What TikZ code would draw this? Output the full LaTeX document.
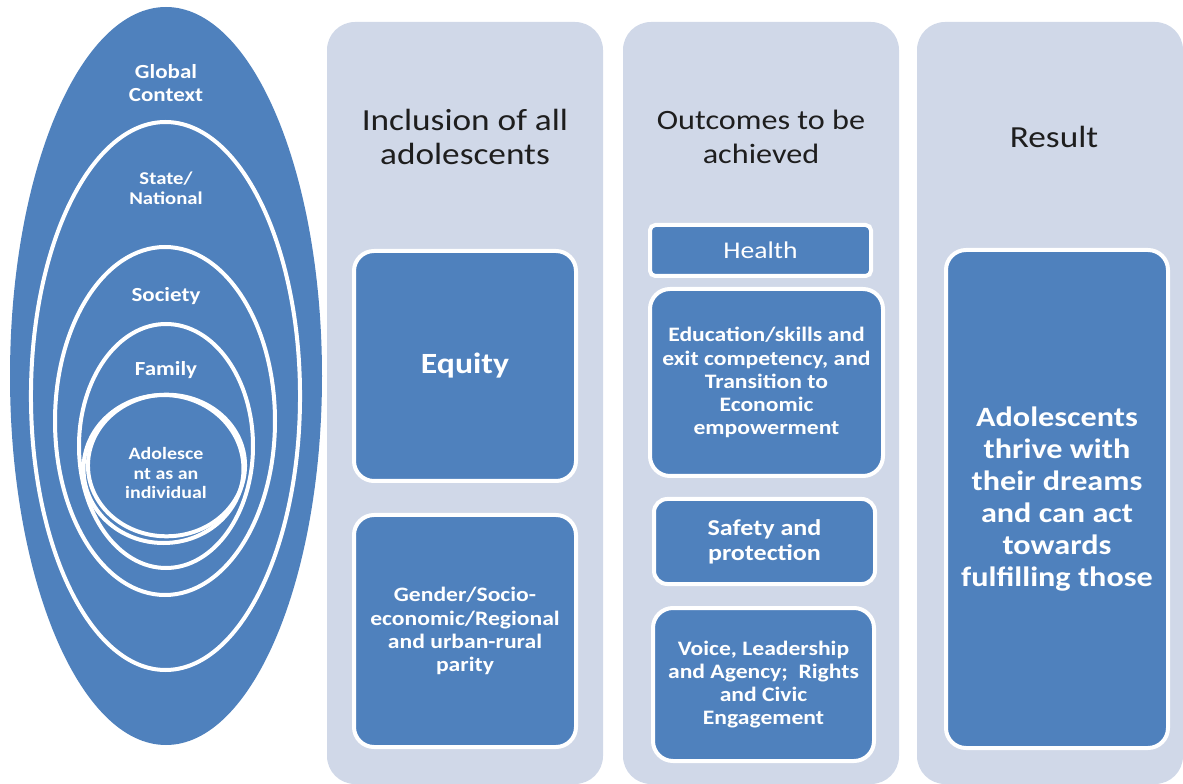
\documentclass[tikz,border=0pt]{standalone}
\usepackage{fontspec}
\setmainfont{Carlito}[FakeStretch=1.15]
\definecolor{boxblue}{RGB}{79,129,189}
\definecolor{panel}{RGB}{208,216,232}
\definecolor{headtext}{RGB}{30,30,30}
\tikzset{
  panelbox/.style={fill=panel, rounded corners=21pt},
  ring/.style={draw=white, line width=3pt},
  ringlabel/.style={text=white, align=center, inner sep=0pt},
  heading/.style={text=headtext, align=center, inner sep=0pt, font=\fontsize{23}{25}\selectfont},
  itembox/.style={fill=boxblue, draw=white, line width=3pt, rounded corners=15pt,
    text=white, align=center, inner sep=0pt},
  smalltext/.style={font=\bfseries\fontsize{15.4}{17.3}\selectfont}
}
\begin{document}
\begin{tikzpicture}[x=0.75pt,y=-0.75pt]
\useasboundingbox (0,0) rectangle (1183,784);

\fill[boxblue] (166,376) ellipse [x radius=117pt, y radius=276.75pt];
\draw[ring] (165.5,396) ellipse [x radius=100.9pt, y radius=205.5pt];
\draw[ring] (165,421) ellipse [x radius=82.5pt, y radius=130.5pt];
\draw[ring] (166,446) ellipse [x radius=65.25pt, y radius=91.5pt];
\draw[ring] (163.5,469) ellipse [x radius=60pt, y radius=55.5pt];
\draw[ring] (166.5,465.5) ellipse [x radius=58.9pt, y radius=53.1pt];

\node[ringlabel, font=\bfseries\fontsize{15}{17}\selectfont] (global) at (166,83) {Global\\Context};
\node[ringlabel, font=\bfseries\fontsize{13.5}{15}\selectfont] (state) at (166,188) {State/\\National};
\node[ringlabel, font=\bfseries\fontsize{15}{17}\selectfont] (society) at (166,296) {Society};
\node[ringlabel, font=\bfseries\fontsize{15}{17}\selectfont] (family) at (166,370) {Family};
\node[ringlabel, font=\bfseries\fontsize{13}{14.6}\selectfont] (self) at (166,473) {Adolesce\\nt as an\\individual};

\fill[panelbox] (327,22) rectangle (603,784);
\fill[panelbox] (623,22) rectangle (899,784);
\fill[panelbox] (917,22) rectangle (1183,784);

\node[heading] (inclusion) at (465,137) {Inclusion of all\\adolescents};
\node[heading, font=\fontsize{21}{25}\selectfont] (outcomes) at (761,137) {Outcomes to be\\achieved};
\node[heading] (result) at (1054,137) {Result};

\node[itembox, minimum width=166.5pt, minimum height=172.5pt,
  font=\bfseries\fontsize{22}{25}\selectfont] (equity) at (465,366) {Equity};
\node[itembox, smalltext, minimum width=166.5pt, minimum height=174pt] (parity) at (465,631)
  {Gender/Socio-\\economic/Regional\\and urban-rural\\parity};

\node[itembox, rounded corners=4pt, minimum width=165.75pt, minimum height=38.25pt,
  font=\fontsize{18}{20}\selectfont] (health) at (760.5,250.5) {Health};
\node[itembox, smalltext, minimum width=174.75pt, minimum height=140.25pt] (education) at (766.5,382.5)
  {Education/skills and\\exit competency, and\\Transition to\\Economic\\empowerment};
\node[itembox, rounded corners=10pt, minimum width=165.75pt, minimum height=63.75pt,
  font=\bfseries\fontsize{17}{18.75}\selectfont] (safety) at (764.5,541.5) {Safety and\\protection};
\node[itembox, smalltext, minimum width=165.75pt, minimum height=114.75pt] (voice) at (763.5,684.5)
  {Voice, Leadership\\and Agency;\ \ Rights\\and Civic\\Engagement};

\node[itembox, minimum width=166.5pt, minimum height=373.5pt,
  font=\bfseries\fontsize{21}{24}\selectfont] (thrive) at (1057,499)
  {Adolescents\\thrive with\\their dreams\\and can act\\towards\\fulfilling those};
\end{tikzpicture}
\end{document}
